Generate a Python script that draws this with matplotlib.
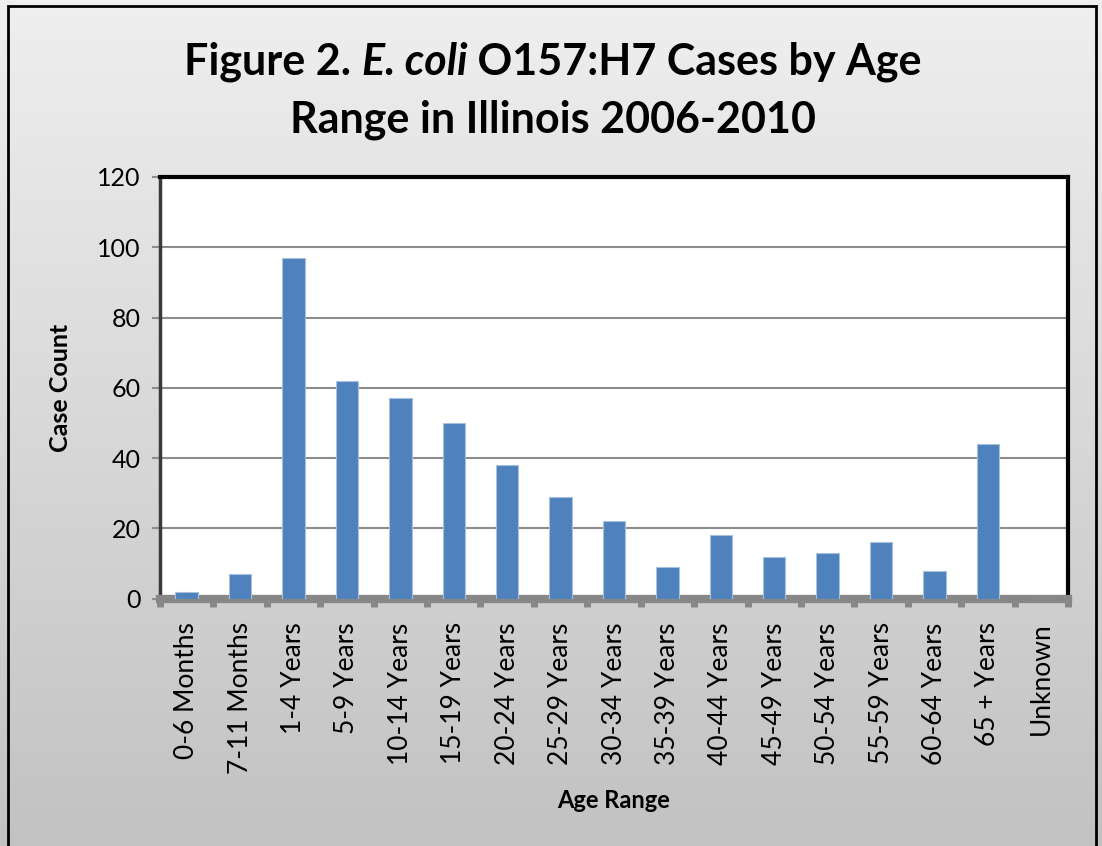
import numpy as np
import matplotlib
matplotlib.use("Agg")
import matplotlib.pyplot as plt
from matplotlib.patches import Rectangle
from matplotlib.colors import LinearSegmentedColormap

age_ranges = [
    "0-6 Months", "7-11 Months", "1-4 Years", "5-9 Years", "10-14 Years",
    "15-19 Years", "20-24 Years", "25-29 Years", "30-34 Years", "35-39 Years",
    "40-44 Years", "45-49 Years", "50-54 Years", "55-59 Years", "60-64 Years",
    "65 + Years", "Unknown",
]
case_counts = [2, 7, 97, 62, 57, 50, 38, 29, 22, 9, 18, 12, 13, 16, 8, 44, 0]
y_ticks = [0, 20, 40, 60, 80, 100, 120]

plt.rcParams["font.family"] = ["Lato", "DejaVu Sans"]

W, H = 1102, 846
fig = plt.figure(figsize=(W / 100, H / 100), dpi=100)

# gray gradient background
bg = fig.add_axes([0, 0, 1, 1], zorder=0)
grad = np.linspace(0, 1, 256).reshape(-1, 1)
bg.imshow(grad, aspect="auto", cmap=LinearSegmentedColormap.from_list("g", ["#efefef", "#c2c2c2"]),
          extent=[0, 1, 0, 1], origin="upper")
bg.set_xlim(0, 1)
bg.set_ylim(0, 1)
bg.axis("off")

# outer frame (bottom edge falls outside the image)
fig.patches.append(Rectangle((8 / W, -0.05), (1096 - 8) / W, 1.05 - 6 / H,
                             transform=fig.transFigure, fill=False,
                             edgecolor="black", linewidth=2, zorder=5))

ax = fig.add_axes([160 / W, 1 - 598.7 / H, (1068 - 160) / W, (598.7 - 177) / H], zorder=2)
ax.set_facecolor("white")

x = np.arange(len(age_ranges))
ax.bar(x, case_counts, width=0.42, color="#4f81bd", edgecolor="#a7c0de",
       linewidth=0.8, zorder=3)

ax.set_xlim(-0.5, len(age_ranges) - 0.5)
ax.set_ylim(0, 120)
ax.set_yticks(y_ticks)
ax.set_yticklabels([str(v) for v in y_ticks], fontsize=18)
ax.yaxis.grid(True, color="#8c8c8c", linewidth=1.5, zorder=1)
ax.set_axisbelow(True)

ax.set_xticks(x)
ax.set_xticklabels(age_ranges, rotation=90, fontsize=19)
ax.set_xticks(np.arange(-0.5, len(age_ranges)), minor=True)
ax.tick_params(axis="x", which="major", length=0, pad=17)
ax.tick_params(axis="x", which="minor", length=6, width=5, color="#878787")
ax.tick_params(axis="y", length=6, width=1.5, color="#8c8c8c", pad=8)

ax.spines["bottom"].set_color("#878787")
ax.spines["bottom"].set_linewidth(6)
ax.spines["left"].set_color("#3a3a3a")
ax.spines["left"].set_linewidth(2.5)
ax.spines["top"].set_color("black")
ax.spines["top"].set_linewidth(3)
ax.spines["right"].set_color("black")
ax.spines["right"].set_linewidth(3)

# title line 1 has an italic part: lay out the pieces side by side, centred
pieces = [("Figure 2. ", "normal"), ("E. coli", "italic"), (" O157:H7 Cases by Age", "normal")]
renderer = fig.canvas.get_renderer()
texts = []
for s, style in pieces:
    t = fig.text(0, 1 - 62 / H, s, ha="left", va="center", fontsize=31,
                 fontweight="bold", fontstyle=style)
    texts.append(t)
widths = [t.get_window_extent(renderer).width for t in texts]
x0 = 553 - sum(widths) / 2
for t, w in zip(texts, widths):
    t.set_x(x0 / W)
    x0 += w

fig.text(553 / W, 1 - 120 / H, "Range in Illinois 2006-2010",
         ha="center", va="center", fontsize=31, fontweight="bold")
fig.text(60 / W, 1 - 388 / H, "Case Count", rotation=90, ha="center", va="center",
         fontsize=18, fontweight="bold")
fig.text(614 / W, 1 - 800 / H, "Age Range", ha="center", va="center",
         fontsize=17, fontweight="bold")

fig.savefig("out.png", dpi=100)
